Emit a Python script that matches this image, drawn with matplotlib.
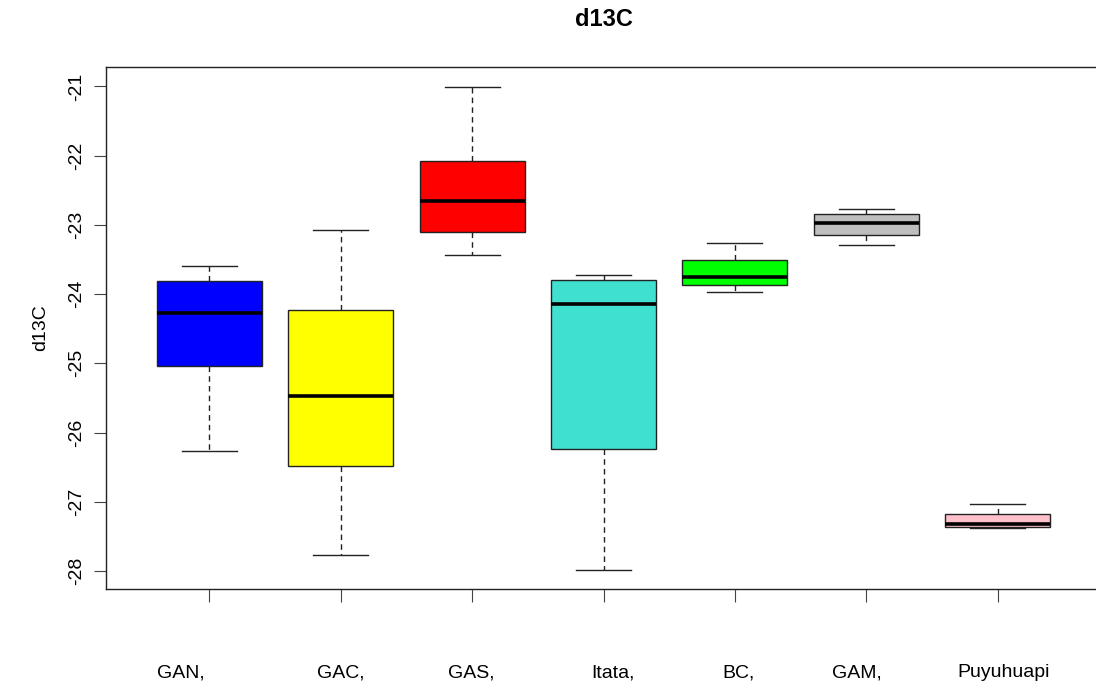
import matplotlib
matplotlib.use("Agg")
import matplotlib.pyplot as plt
from matplotlib.transforms import ScaledTranslation

plt.rcParams["font.family"] = ["Liberation Sans", "DejaVu Sans"]

categories = ["GAN,", "GAC,", "GAS,", "Itata,", "BC,", "GAM,", "Puyuhuapi"]
whisker_low = [-26.26, -27.77, -23.43, -27.99, -23.97, -23.29, -27.38]
q1 = [-25.04, -26.48, -23.10, -26.24, -23.87, -23.14, -27.36]
median = [-24.27, -25.47, -22.65, -24.15, -23.75, -22.97, -27.32]
q3 = [-23.81, -24.23, -22.08, -23.79, -23.51, -22.85, -27.17]
whisker_high = [-23.60, -23.07, -21.01, -23.73, -23.26, -22.77, -27.03]
colors = ["#0000FF", "#FFFF00", "#FF0000", "#40E0D0", "#00FF00", "#BEBEBE", "#FFC0CB"]
yticks = [-21, -22, -23, -24, -25, -26, -27, -28]
label_shift_px = [-29, 0, -1, 9, 4, -9, 6]

W, H = 1096, 685
fig = plt.figure(figsize=(W / 100, H / 100), dpi=100)
left_px, right_px, top_px, bot_px = 106, 1101, 67, 589
ax = fig.add_axes([left_px / W, 1 - bot_px / H, (right_px - left_px) / W, (bot_px - top_px) / H])

stats = []
for i, c in enumerate(categories):
    stats.append(dict(label=c, whislo=whisker_low[i], q1=q1[i], med=median[i],
                      q3=q3[i], whishi=whisker_high[i], fliers=[]))

bp = ax.bxp(stats, positions=range(1, len(categories) + 1), widths=0.8,
            patch_artist=True, showfliers=False, capwidths=0.42,
            boxprops=dict(edgecolor="#222222", linewidth=1.0),
            medianprops=dict(color="black", linewidth=2.6),
            whiskerprops=dict(color="#222222", linewidth=1.0, linestyle=(0, (4, 3))),
            capprops=dict(color="#222222", linewidth=1.0))
for patch, col in zip(bp["boxes"], colors):
    patch.set_facecolor(col)

ax.set_xlim(0.212, 7.788)
ax.set_ylim(-28.26, -20.72)
ax.set_yticks(yticks)
ax.set_yticklabels([str(v) for v in yticks], rotation=90, va="center", fontsize=14)
ax.set_xticks(range(1, len(categories) + 1))
ax.set_xticklabels(categories, fontsize=14)
ax.tick_params(axis="x", length=9, pad=45, color="#444444")
ax.tick_params(axis="y", length=9, pad=6, color="#444444")
for lbl, dx in zip(ax.get_xticklabels(), label_shift_px):
    lbl.set_transform(lbl.get_transform() + ScaledTranslation(dx / 100, 0, fig.dpi_scale_trans))
for s in ax.spines.values():
    s.set_linewidth(1.0)
    s.set_color("#222222")
ax.set_ylabel("d13C", fontsize=14, labelpad=14)
fig.text((left_px + right_px) / 2 / W, 1 - 20 / H, "d13C", ha="center", va="center",
         fontsize=17, fontweight="bold")

fig.savefig("out.png", dpi=100)
